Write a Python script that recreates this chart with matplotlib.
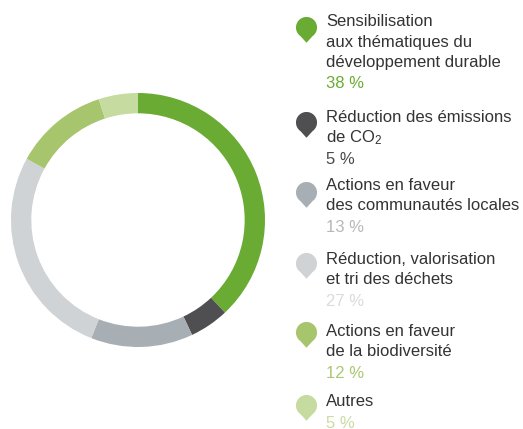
import numpy as np
import matplotlib
matplotlib.use("Agg")
import matplotlib.pyplot as plt
from matplotlib.path import Path

plt.rcParams['font.family'] = ['Liberation Sans', 'DejaVu Sans']
plt.rcParams['mathtext.fontset'] = 'custom'
plt.rcParams['mathtext.rm'] = 'Liberation Sans'
plt.rcParams['mathtext.it'] = 'Liberation Sans'

# Répartition des actions (%)
labels = [
    "Sensibilisation\naux thématiques du\ndéveloppement durable",
    "Réduction des émissions\nde CO$_2$",
    "Actions en faveur\ndes communautés locales",
    "Réduction, valorisation\net tri des déchets",
    "Actions en faveur\nde la biodiversité",
    "Autres",
]
values = [38, 5, 13, 27, 12, 5]
colors = ["#6aab33", "#4f4f51", "#a8afb4", "#cfd3d6", "#a6c56c", "#c6db9f"]
pct_colors = ["#6aab33", "#4a4a4a", "#b4b8bb", "#d9dbdc", "#a9c870", "#c9dca2"]

W, H = 523, 429
fig = plt.figure(figsize=(W / 100, H / 100), dpi=100)

# Donut
cx, cy, R = 138, 220, 127
ax = fig.add_axes([(cx - R) / W, (H - cy - R) / H, 2 * R / W, 2 * R / H])
ax.pie(values, colors=colors, startangle=90, counterclock=False, radius=1,
       wedgeprops=dict(width=0.16, linewidth=0))
ax.set_xlim(-1, 1)
ax.set_ylim(-1, 1)
ax.axis('off')

# Legend overlay in pixel coordinates
lg = fig.add_axes([0, 0, 1, 1])
lg.set_xlim(0, W)
lg.set_ylim(H, 0)
lg.axis('off')

# Pin-shaped marker: circle with a pointed bottom
t = np.linspace(np.radians(-55), np.radians(235), 60)
verts = [(np.cos(a), np.sin(a)) for a in t] + [(0, -1.45)]
verts.append(verts[0])
codes = [Path.MOVETO] + [Path.LINETO] * (len(verts) - 2) + [Path.CLOSEPOLY]
pin = Path(verts, codes)

pin_y = [24, 119, 189, 260, 329, 402]
text_y = [21, 117, 185, 259, 331, 402]
line_h = 21
text_x = 326
pin_x = 306

for lab, v, c, pc, py, ty in zip(labels, values, colors, pct_colors, pin_y, text_y):
    lg.plot([pin_x], [py + 3], marker=pin, markersize=22, color=c,
            markeredgewidth=0, linestyle='none')
    lines = lab.split("\n")
    for i, ln in enumerate(lines):
        lg.text(text_x, ty + i * line_h, ln, fontsize=12, color="#333333",
                va='center', ha='left')
    lg.text(text_x, ty + len(lines) * line_h, f"{v} %", fontsize=12,
            color=pc, va='center', ha='left')

fig.savefig("out.png", dpi=100)
